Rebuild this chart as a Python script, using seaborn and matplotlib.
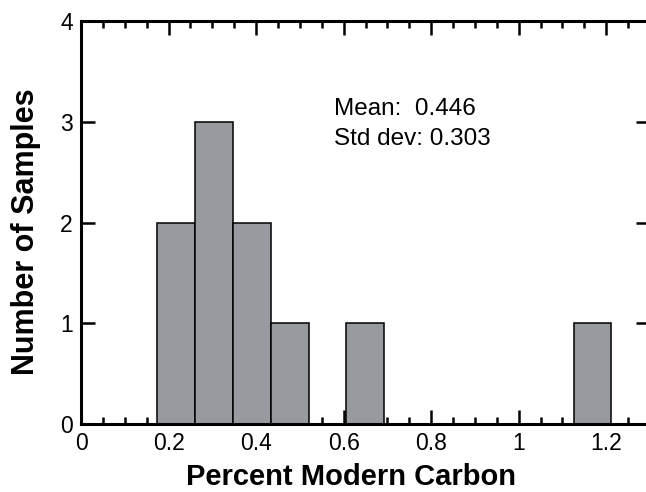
import numpy as np
import pandas as pd
import matplotlib
matplotlib.use("Agg")
import matplotlib.pyplot as plt
from matplotlib.ticker import MultipleLocator
import seaborn as sns

# Data (percent modern carbon for each sample)
samples = [0.174, 0.24, 0.28, 0.31, 0.34, 0.37, 0.42, 0.49, 0.66, 1.212]
n_bins = 12
x_ticks = [0, 0.2, 0.4, 0.6, 0.8, 1.0, 1.2]
x_tick_labels = ["0", "0.2", "0.4", "0.6", "0.8", "1", "1.2"]
y_ticks = [0, 1, 2, 3, 4]
stats_lines = ["Mean:  0.446", "Std dev: 0.303"]

sns.set_style("ticks")
plt.rcParams['font.family'] = ['Liberation Sans', 'DejaVu Sans']
plt.rcParams['text.color'] = 'black'
plt.rcParams['axes.labelcolor'] = 'black'
plt.rcParams['xtick.color'] = 'black'
plt.rcParams['ytick.color'] = 'black'

fig = plt.figure(figsize=(6.46, 4.92), dpi=100)
ax = fig.add_axes([81/646, 68/492, (650-81)/646, 403/492])

df = pd.DataFrame({"pmc": samples})
sns.histplot(data=df, x="pmc", bins=n_bins, binrange=(min(samples), max(samples)),
             color="#979ba0", edgecolor="black", linewidth=1.1, alpha=1, ax=ax)

ax.set_xlim(0, 1.3)
ax.set_ylim(0, 4)
ax.set_xticks(x_ticks)
ax.set_xticklabels(x_tick_labels)
ax.xaxis.set_minor_locator(MultipleLocator(0.05))
ax.set_yticks(y_ticks)

for s in ax.spines.values():
    s.set_linewidth(2.2)
    s.set_color("black")

ax.tick_params(axis="both", which="major", direction="in", length=10, width=1.8,
               labelsize=16.5, top=True, right=True, pad=6, colors="black")
ax.tick_params(axis="x", which="minor", direction="in", length=5, width=1.8,
               top=True, bottom=True)
ax.tick_params(axis="y", which="minor", left=False, right=False)

ax.set_xlabel("Percent Modern Carbon", fontsize=21, fontweight="bold", color="black")
ax.set_ylabel("Number of Samples", fontsize=22, fontweight="bold", color="black")
ax.xaxis.set_label_coords((351-81)/(650-81), -(477-424)/403)
ax.yaxis.set_label_coords(-(81-26)/(650-81), (424-232)/403)
ax.xaxis.label.set_va("center")
ax.yaxis.label.set_va("center")

ax.text(0.577, 3.067, stats_lines[0], fontsize=17.5, va="baseline", ha="left", color="black")
ax.text(0.577, 2.769, stats_lines[1], fontsize=17.5, va="baseline", ha="left", color="black")

fig.savefig("out.png", dpi=100)
